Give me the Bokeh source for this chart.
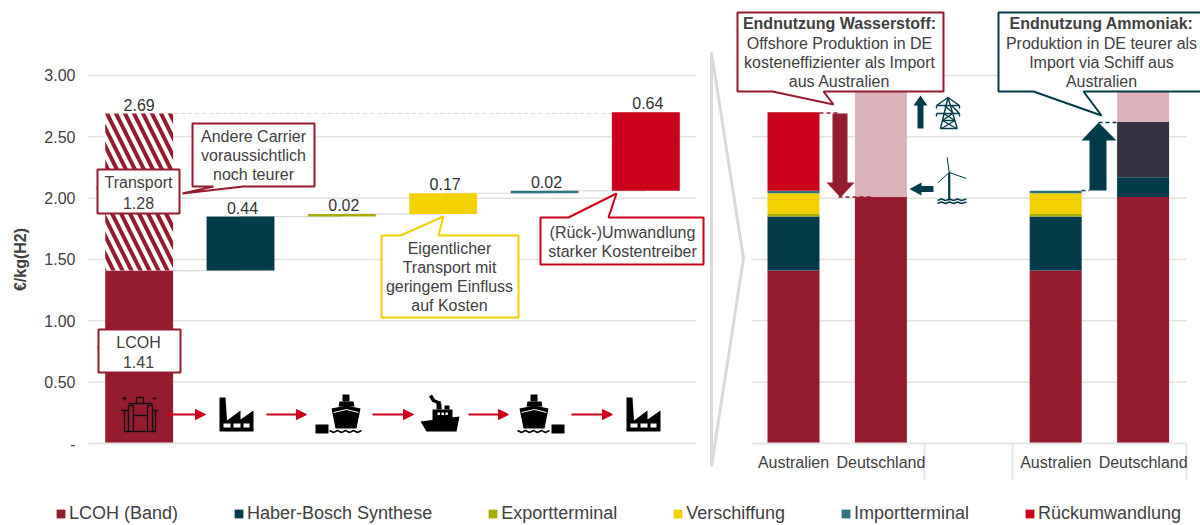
from bokeh.embed import file_html
from bokeh.resources import INLINE
from bokeh.plotting import figure
from bokeh.core.properties import value
from bokeh.models import (ColumnDataSource, FixedTicker, Label, Legend, LegendItem, LinearAxis,
                          NumeralTickFormatter, PolyAnnotation, Range1d, Arrow, NormalHead)

# ---------- data ----------
waterfall_steps = ["LCOH", "Haber-Bosch", "Exportterminal", "Verschiffung", "Importterminal", "Rückumwandlung"]
waterfall_values = [1.41, 0.44, 0.02, 0.17, 0.02, 0.64]
waterfall_labels = ["2.69", "0.44", "0.02", "0.17", "0.02", "0.64"]
transport_value = 1.28
y_ticks = [0, 0.5, 1.0, 1.5, 2.0, 2.5, 3.0]

site_labels = ["Australien", "Deutschland", "", "Australien", "Deutschland"]
lcoh_stack = [1.41, 2.01, 0, 1.41, 2.01]
hb_stack = [0.44, 0, 0, 0.44, 0.16]
export_stack = [0.02, 0, 0, 0.02, 0]
ship_stack = [0.17, 0, 0, 0.17, 0]
import_stack = [0.02, 0, 0, 0.02, 0]
reconv_stack = [0.64, 0, 0, 0, 0]
extra_stack = [0, 0, 0, 0, 0.45]
upper_stack = [0, 1.2, 0, 0, 0.6]

legend_names = ["LCOH (Band)", "Haber-Bosch Synthese", "Exportterminal", "Verschiffung", "Importterminal", "Rückumwandlung"]

# ---------- styles ----------
RED, TEAL, OLIVE, YEL, CYAN, BRIGHT = "#951b2e", "#023c4b", "#a6ad00", "#f3d000", "#2f7480", "#cb0019"
PINK, NAVY = "#dcb2ba", "#333240"
legend_colors = [RED, TEAL, OLIVE, YEL, CYAN, BRIGHT]
GRID, TXT, FONT = "#e4e2de", "#404040", "Liberation Sans"
PX_PER_UNIT = 122.67
LPX = 608 / 6
RPX = 87.4
CANVAS_W, CANVAS_H, CANVAS_X, CANVAS_Y = 1200, 525, 0, 0


def Y(py):
    return (443 - py) / PX_PER_UNIT


def LX(px):
    return (px - 88) / LPX


def RX(px):
    return (px - 749.3) / RPX


p = figure(width=CANVAS_W, height=CANVAS_H, toolbar_location=None, output_backend="svg", min_border=0,
           x_range=Range1d(LX(CANVAS_X), LX(CANVAS_X + CANVAS_W)),
           y_range=Range1d(Y(CANVAS_Y + CANVAS_H), Y(CANVAS_Y)),
           x_axis_location=None, y_axis_location=None)
p.extra_x_ranges["stacks"] = Range1d(RX(CANVAS_X), RX(CANVAS_X + CANVAS_W))
p.outline_line_color = None
p.grid.visible = False


def polys(X, shapes, color):
    p.patches([[X(x) for x, _ in s] for s in shapes], [[Y(y) for _, y in s] for s in shapes],
              fill_color=color, line_color=None)


def lines(X, shapes, color, width):
    p.multi_line([[X(x) for x, _ in s] for s in shapes], [[Y(y) for _, y in s] for s in shapes],
                 line_color=color, line_width=width)


def callout(pts, color, width=2):
    p.add_layout(PolyAnnotation(xs=[LX(x) for x, _ in pts], ys=[Y(y) for _, y in pts],
                                xs_units="data", ys_units="data", fill_color="white", fill_alpha=1,
                                line_color=color, line_alpha=1, line_width=width))


def txt(px, py, s, bold=False):
    p.add_layout(Label(x=LX(px), y=Y(py), text=s, text_align="center", text_baseline="middle",
                       text_font=FONT, text_font_size="16px", text_color=TXT,
                       text_font_style="bold" if bold else "normal"))


# ---------- axes ----------
ya = LinearAxis(ticker=FixedTicker(ticks=y_ticks), formatter=NumeralTickFormatter(format="0.00"),
                major_label_overrides={0: "-"}, bounds=(0, 3), fixed_location=0,
                axis_line_color=None, major_tick_line_color=None, minor_tick_line_color=None,
                major_label_standoff=7, major_label_text_font=FONT, major_label_text_font_size="16px",
                major_label_text_color=TXT, axis_label="€/kg(H2)", axis_label_text_font=FONT,
                axis_label_text_font_size="16px", axis_label_text_font_style="bold",
                axis_label_text_color=TXT, axis_label_standoff=12)
p.add_layout(ya, "left")
p.add_layout(LinearAxis(ticker=FixedTicker(ticks=[]), bounds=(0, len(waterfall_steps)), fixed_location=0,
                        axis_line_color="#e6e6e6", axis_line_width=2, major_tick_line_color=None,
                        minor_tick_line_color=None, major_label_text_color=None), "below")
site_x = [i + 0.5 for i in range(len(site_labels))]
p.add_layout(LinearAxis(x_range_name="stacks", fixed_location=0, bounds=(RX(752), len(site_labels)),
                        ticker=FixedTicker(ticks=[site_x[i] for i, s in enumerate(site_labels) if s], minor_ticks=[2, 3, 5]),
                        major_label_overrides={site_x[i]: s for i, s in enumerate(site_labels) if s},
                        major_tick_line_color=None, minor_tick_in=0, minor_tick_out=36,
                        minor_tick_line_color="#e6e6e6", minor_tick_line_width=2,
                        axis_line_color="#e6e6e6", axis_line_width=2, major_label_standoff=-26,
                        major_label_text_font=FONT, major_label_text_font_size="16px",
                        major_label_text_color=TXT), "below")

# gridlines of the two panels
grid_y = y_ticks[1:]
p.segment(x0=[0] * len(grid_y), x1=[len(waterfall_steps)] * len(grid_y), y0=grid_y, y1=grid_y,
          line_color=GRID, line_width=1.5)
p.segment(x0=[RX(752)] * len(grid_y), x1=[len(site_labels)] * len(grid_y), y0=grid_y, y1=grid_y,
          line_color=GRID, line_width=1.5, x_range_name="stacks")

# ---------- left: waterfall ----------
step_x = [i + 0.5 for i in range(len(waterfall_steps))]
tops, bottoms, run = [], [], 0
for v in waterfall_values:
    bottoms.append(run)
    run += v
    tops.append(run)
total_bar = waterfall_values[0] + transport_value

p.segment(x0=step_x[:-1], x1=step_x[1:], y0=tops[:-1], y1=tops[:-1], line_color="#d9d9d9", line_width=1.2)
p.segment(x0=[step_x[0]], x1=[step_x[-1]], y0=[total_bar], y1=[total_bar], line_color="#d9d9d9", line_width=1.2,
          line_dash="4 3")
bars = p.vbar(x=step_x, bottom=bottoms, top=tops, width=0.67, fill_color=legend_colors, line_color=None)
p.vbar(x=[step_x[0]], bottom=[waterfall_values[0]], top=[total_bar], width=0.67, fill_color="white", line_color=None,
       hatch_pattern="left_diagonal_line", hatch_color=RED, hatch_scale=18, hatch_weight=4)
p.text(x=step_x, y=[total_bar] + tops[1:], text=waterfall_labels, text_align="center", text_baseline="bottom",
       y_offset=-3, x_offset=[0, 2, 2, 2, 2, 2], text_font=value(FONT), text_font_size="16px", text_color="#333333")

# process icons
lines(LX, [[(124, 410), (124, 431), (155, 431), (155, 410)], [(120.7, 410), (128, 410)], [(152, 410), (157.7, 410)],
           [(128, 405), (128, 431)], [(133, 405), (133, 431)], [(147, 405), (147, 431)], [(152, 405), (152, 431)],
           [(128, 405), (133, 405)], [(147, 405), (152, 405)], [(133, 415), (147, 415)],
           [(128, 403), (152, 403)], [(136, 403), (136, 397), (143, 397), (143, 403)],
           [(122, 398), (126, 398)], [(124, 396), (124, 400)], [(152, 398), (156, 398)]], "#111111", 1.4)


def factory(dx):
    polys(LX, [[(219 + dx, 431), (219 + dx, 397), (225 + dx, 397), (226.5 + dx, 420), (240 + dx, 410),
                (240 + dx, 419), (253 + dx, 410), (253 + dx, 431)]], "black")
    polys(LX, [[(a + dx, 423), (b + dx, 423), (b + dx, 427), (a + dx, 427)] for a, b in [(223, 230), (233, 240), (243, 249)]], "white")


def ship(dx, box):
    polys(LX, [[(342 + dx, 394), (349 + dx, 394), (349 + dx, 401), (342 + dx, 401)],
               [(339 + dx, 401), (353 + dx, 401), (354 + dx, 406), (338 + dx, 406)],
               [(331 + dx, 408), (346 + dx, 405), (360 + dx, 408), (356 + dx, 428), (335 + dx, 428)],
               [(box, 424), (box + 13, 424), (box + 13, 433), (box, 433)]], "black")
    lines(LX, [[(333 + dx, 412), (346 + dx, 409), (358 + dx, 412)]], "white", 1)
    lines(LX, [[(329 + dx, 430), (333 + dx, 432), (337 + dx, 430), (341 + dx, 432), (345 + dx, 430), (349 + dx, 432),
                (353 + dx, 430), (357 + dx, 432), (361 + dx, 430)]], "black", 1.4)


factory(0)
factory(407)
ship(0, 315)
ship(188, 551)
polys(LX, [[(420, 421), (459, 416), (456, 431), (426, 431)],
           [(432, 409), (452, 409), (452, 421), (432, 421)],
           [(436, 403), (441, 403), (441, 409), (436, 409)],
           [(444, 405), (449, 405), (449, 409), (444, 409)]], "black")
lines(LX, [[(430, 395), (433, 400), (440, 403)]], "black", 3.5)
polys(LX, [[(a, 412), (a + 2.4, 412), (a + 2.4, 414.5), (a, 414.5)] for a in (437, 441, 445)], "white")
for a, b in [(165, 205), (266, 306), (372, 413), (468, 508), (571, 612)]:
    p.add_layout(Arrow(x_start=LX(a), x_end=LX(b), y_start=Y(414), y_end=Y(414), line_color=BRIGHT, line_width=2,
                       end=NormalHead(size=10, fill_color=BRIGHT, line_color=BRIGHT)))

# ---------- right: stacked comparison ----------
src = ColumnDataSource(dict(x=site_x, a=lcoh_stack, b=hb_stack, c=export_stack, d=ship_stack, e=import_stack,
                            f=reconv_stack, g=extra_stack, h=upper_stack))
p.vbar_stack(list("abcdefgh"), x="x", width=0.595, source=src, x_range_name="stacks",
             color=[RED, TEAL, OLIVE, YEL, CYAN, BRIGHT, NAVY, PINK], line_color=None)

# chevron linking both panels
p.add_layout(PolyAnnotation(xs=[LX(711), LX(743), LX(711)], ys=[Y(52), Y(258), Y(466)], xs_units="data", ys_units="data",
                            fill_alpha=0, line_color="#d9d9d9", line_alpha=1, line_width=3))

# comparison arrows
polys(LX, [[(832, 113), (847, 113), (847, 182), (854, 182), (840, 197), (826, 182), (832, 182)]], RED)
polys(LX, [[(1089, 190), (1106, 190), (1106, 140), (1116, 140), (1098, 122), (1081, 140), (1089, 140)]], TEAL)
polys(LX, [[(917, 128), (923, 128), (923, 105), (927, 105), (920, 95), (913, 105), (917, 105)]], TEAL)
polys(LX, [[(933, 185.5), (921, 185.5), (921, 182), (909, 188.5), (921, 195), (921, 191.5), (933, 191.5)]], TEAL)
for y0, a, b, c in [(112.5, 819, 838, RED), (196.5, 838, 870, RED), (122, 1098, 1117, TEAL), (190, 1081, 1089, TEAL)]:
    p.segment(x0=[LX(a)], x1=[LX(b)], y0=[Y(y0)], y1=[Y(y0)], line_color=c, line_width=1.5, line_dash="4 3")

# pylon
lines(LX, [[(947.5, 97), (940, 128), (956.7, 128), (947.5, 97)], [(936, 105), (959, 105), (947.5, 97), (936, 105)],
           [(936, 113), (959, 113), (951, 105)], [(944, 105), (953, 113)], [(942, 120), (954, 120)], [(943, 113), (954.5, 120), (941, 128)],
           [(952, 113), (942, 120), (956, 128)], [(936, 105), (936, 108)], [(959, 105), (959, 108)],
           [(936, 113), (936, 116)], [(959, 113), (959, 116)]], TEAL, 1.4)
# wind turbine
lines(LX, [[(948.7, 172), (948.7, 200)]], TEAL, 2.2)
lines(LX, [[(948.7, 172), (946.7, 157)], [(948.7, 172), (966, 178)], [(948.7, 172), (937.7, 182)]], TEAL, 1)
lines(LX, [[(937, 200), (941, 198.5), (945, 200), (949, 198.5), (953, 200), (957, 198.5), (961, 200), (966, 198.5)],
           [(937, 203), (941, 201.5), (945, 203), (949, 201.5), (953, 203), (957, 201.5), (961, 203), (966, 201.5)]], TEAL, 1.6)

# ---------- callouts ----------
callout([(97, 169), (179, 169), (179, 213), (97, 213), (97, 188), (96, 188), (97, 187.5)], RED)
txt(138, 182, "Transport")
txt(138, 202, "1.28")
callout([(192, 123), (314, 123), (314, 186), (243, 186), (182, 193), (213, 186), (192, 186)], RED)
for py, s in zip((136, 155, 174), ("Andere Carrier", "voraussichtlich", "noch teurer")):
    txt(253, py, s)
callout([(98, 329), (180, 329), (180, 372), (98, 372), (98, 347), (97, 347), (98, 346.5)], RED)
txt(138, 342, "LCOH")
txt(138, 361, "1.41")
callout([(381, 235), (400, 235), (443, 216), (438, 235), (518, 235), (518, 317), (381, 317)], YEL)
for py, s in zip((248, 267, 286, 305), ("Eigentlicher", "Transport mit", "geringem Einfluss", "auf Kosten")):
    txt(449, py, s)
callout([(540, 217), (568, 217), (616, 193), (608, 217), (703, 217), (703, 264), (540, 264)], BRIGHT)
txt(622, 232, "(Rück-)Umwandlung")
txt(622, 251, "starker Kostentreiber")
callout([(737, 12), (943, 12), (943, 91), (823, 91), (833, 104), (772, 91), (737, 91)], RED)
txt(839, 23, "Endnutzung Wasserstoff:", bold=True)
for py, s in zip((43, 62, 81), ("Offshore Produktion in DE", "kosteneffizienter als Import", "aus Australien")):
    txt(839, py, s)
callout([(998, 12), (1203, 12), (1203, 91), (1083, 91), (1101, 115), (1033, 91), (998, 91)], TEAL)
txt(1101, 23, "Endnutzung Ammoniak:", bold=True)
for py, s in zip((43, 62, 81), ("Produktion in DE teurer als", "Import via Schiff aus", "Australien")):
    txt(1101, py, s)

# ---------- legend ----------
items = [LegendItem(label=n, renderers=[bars], index=i) for i, n in enumerate(legend_names)]
p.add_layout(Legend(items=items, orientation="horizontal", location=(55, 1), spacing=55, padding=0, margin=0,
                    glyph_width=11, glyph_height=11, label_standoff=3, border_line_color=None,
                    background_fill_alpha=0, label_text_font=FONT, label_text_font_size="18px",
                    label_text_color=TXT))

open("out.html", "w").write(file_html(p, INLINE))
